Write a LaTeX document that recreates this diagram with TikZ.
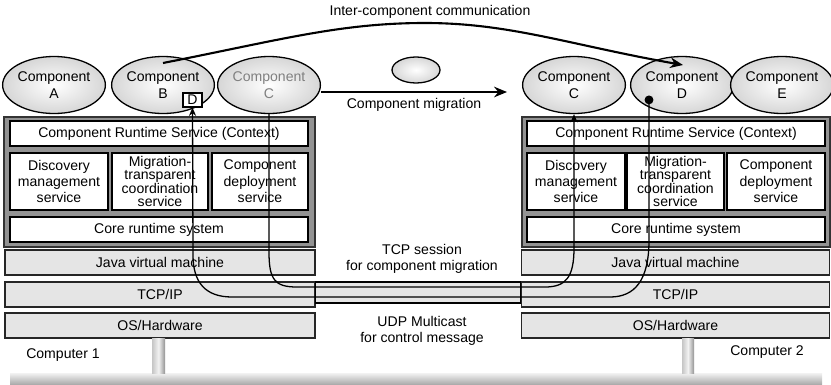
\documentclass[tikz,border=0pt]{standalone}
\usepackage{fontspec}
\setmainfont{Liberation Sans}
\usetikzlibrary{arrows.meta,positioning,calc,shapes.geometric}

\begin{document}
\begin{tikzpicture}[x=0.3mm, y=-0.3mm, font=\fontsize{12}{14}\selectfont,
    comp/.style={ellipse, draw, line width=1.1pt, inner sep=0pt, align=center,
        minimum width=100*0.3mm, minimum height=57*0.3mm,
        inner color=white, outer color=gray!32},
    rtbox/.style={draw=black!80, line width=1.4pt, fill=gray!85!white,
        minimum width=311*0.3mm, minimum height=130*0.3mm},
    svc/.style 2 args={draw, line width=1pt, fill=white, inner sep=0pt, align=center,
        minimum width=#1*0.3mm, minimum height=#2*0.3mm},
    layer/.style={draw=black!85, line width=1.2pt, fill=gray!20, inner sep=0pt,
        minimum width=310*0.3mm, minimum height=25*0.3mm},
    wire/.style={line width=1.1pt},
    bigarrow/.style={line width=1.8pt, -{Stealth[length=11pt,width=9pt]}}]
    \useasboundingbox (0,0) rectangle (831,384);

    % Computer 1
    \node[rtbox] (rt1) at (159.5,182) {};
    \node[svc={298}{25}] (crs1) at (159,133.5) {Component Runtime Service (Context)};
    \node[svc={98}{57}] (disc1) at (59,181.5) {Discovery\\management\\service};
    \node[svc={96}{57}, font=\fontsize{12}{11.5}\selectfont] (mig1) at (160,181.5) {Migration-\\transparent\\coordination\\service};
    \node[svc={96}{57}] (dep1) at (260,181.5) {Component\\deployment\\service};
    \node[svc={298}{25}] (core1) at (159,229.5) {Core runtime system};
    \node[layer] (jvm1) at (160,262.5) {Java virtual machine};
    \node[layer] (tcp1) at (160,294.5) {TCP/IP};
    \node[layer] (os1) at (160,325.5) {OS/Hardware};

    \node[comp] (a1) at (54,85) {Component\\A};
    \node[comp] (b1) at (163,85) {Component\\B};
    \node[draw, line width=1.1pt, fill=white, inner sep=0pt, minimum width=19*0.3mm, minimum height=14*0.3mm] (dprx) at (192.5,100) {D};
    \node[comp, text=gray] (c1) at (269,85) {Component\\C};
    \node (pc1) at (63,355) {Computer 1};

    % Computer 2
    \node[rtbox, minimum width=308*0.3mm] (rt2) at (676,182) {};
    \node[svc={298}{25}] (crs2) at (676,133.5) {Component Runtime Service (Context)};
    \node[svc={98}{57}] (disc2) at (576,181.5) {Discovery\\management\\service};
    \node[svc={97}{57}, font=\fontsize{12}{11.5}\selectfont] (mig2) at (675.5,181.5) {Migration-\\transparent\\coordination\\service};
    \node[svc={98}{57}] (dep2) at (776,181.5) {Component\\deployment\\service};
    \node[svc={298}{25}] (core2) at (676,229.5) {Core runtime system};
    \node[layer, minimum width=308*0.3mm] (jvm2) at (675.5,262.5) {Java virtual machine};
    \node[layer, minimum width=308*0.3mm] (tcp2) at (675.5,294.5) {TCP/IP};
    \node[layer, minimum width=308*0.3mm] (os2) at (675.5,325.5) {OS/Hardware};

    \node[comp] (c2) at (574,85) {Component\\C};
    \node[comp] (d2) at (682,85) {Component\\D};
    \node[comp, minimum width=96*0.3mm] (e2) at (782,85) {Component\\E};
    \node (pc2) at (767,352) {Computer 2};

    % Network
    \shade[top color=gray!10, bottom color=gray!65] (10,373) rectangle (822,384);
    \shade[left color=gray!45, right color=gray!85, middle color=gray!10] (152,338) rectangle (165,373);
    \shade[left color=gray!45, right color=gray!85, middle color=gray!10] (682,338) rectangle (694,373);
    \node[align=center] (tcplbl) at (422,259) {TCP session\\for component migration};
    \node[align=center] (udplbl) at (422,331) {UDP Multicast\\for control message};

    % TCP pipe
    \draw[line width=1.1pt, fill=gray!20] (tcp1.east |- 0,282) rectangle (tcp2.west |- 0,303);

    % Migration and communication
    \node[comp, minimum width=48*0.3mm, minimum height=26*0.3mm] (ghost) at (416,70) {};
    \coordinate (migto) at (507,92);
    \draw[bigarrow] (c1.east |- migto) -- (migto) node[midway, below=1pt] (miglbl) {Component migration};

    \coordinate (icfrom) at (163,63);
    \coordinate (icto) at (683,65);
    \draw[bigarrow] (icfrom) .. controls (280,40) and (340,23) .. (425,23)
        .. controls (510,23) and (570,45) .. (icto);
    \node (iclbl) at (430,12) {Inter-component communication};

    % Sessions
    \draw[wire, -{Stealth[length=7pt,width=6pt]}] (c1.south) -- (269,252)
        .. controls (269,280) and (275,287) .. (297,287) -- (545,287)
        .. controls (566,287) and (574,277) .. (574,248) -- (c2.south);
    \coordinate (ddot) at (649,95.5);
    \draw[wire, {Circle[length=7.5pt]}-{Stealth[length=7pt,width=6pt]}] (ddot) -- (649,240)
        .. controls (649,280) and (635,297) .. (610,297) -- (232,297)
        .. controls (205,297) and (193,282) .. (193,255) -- (dprx.south);
\end{tikzpicture}
\end{document}
